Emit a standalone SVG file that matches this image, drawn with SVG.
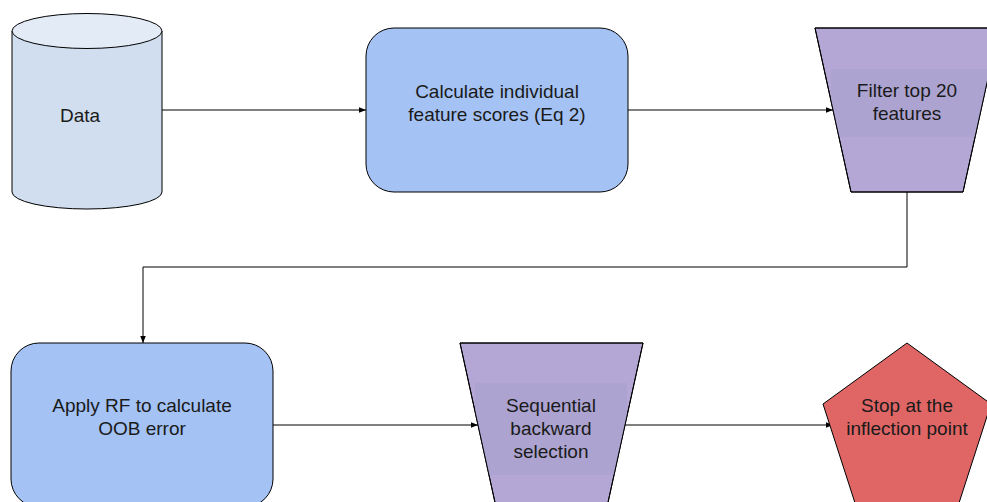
<svg xmlns="http://www.w3.org/2000/svg" width="987" height="502" viewBox="0 0 987 502">
  <style>
    .lbl { font-family: "Liberation Sans", Arial, sans-serif; font-size: 19px; fill: #1a1a1a; text-anchor: middle; }
    .edge { fill: none; stroke: #000; stroke-width: 1; }
    .shape { stroke: #000; stroke-width: 1; }
    .box { fill: #a4c2f4; }
    .trap { fill: #b4a7d6; }
    .band { fill: #aca3d0; }
  </style>
  <defs>
    <marker id="arrow" viewBox="0 0 10 10" refX="10" refY="5" markerWidth="7" markerHeight="7" markerUnits="userSpaceOnUse" orient="auto">
      <path d="M0,1 L10,5 L0,9 z" fill="#000"/>
    </marker>
    <clipPath id="clipTrapTop">
      <polygon points="815,28 999,28 963,192 851,192"/>
    </clipPath>
    <clipPath id="clipTrapBottom">
      <polygon points="460,343 643,343 607,507 496,507"/>
    </clipPath>
  </defs>

  <rect width="987" height="502" fill="#fff"/>

  <g id="connectors">
    <line class="edge" x1="162" y1="110" x2="366" y2="110" marker-end="url(#arrow)"/>
    <line class="edge" x1="628" y1="110" x2="833" y2="110" marker-end="url(#arrow)"/>
    <polyline class="edge" points="907,192 907,267 143,267 143,343" marker-end="url(#arrow)"/>
    <line class="edge" x1="273" y1="425" x2="478" y2="425" stroke-width="2" marker-end="url(#arrow)"/>
    <line class="edge" x1="625" y1="425" x2="833" y2="425" marker-end="url(#arrow)"/>
  </g>

  <g id="node-data">
    <path class="shape" d="M12,31 L12,192 A75,17 0 0 0 162,192 L162,31" fill="#d0deef"/>
    <ellipse class="shape" cx="87" cy="31" rx="75" ry="17.5" fill="#e3ebf6"/>
    <text class="lbl" x="80" y="122">Data</text>
  </g>

  <g id="node-scores">
    <rect class="shape box" x="366" y="28" width="262" height="164" rx="28" ry="28"/>
    <text class="lbl" x="497" y="98">Calculate individual</text>
    <text class="lbl" x="497" y="121">feature scores (Eq 2)</text>
  </g>

  <g id="node-filter">
    <polygon class="shape trap" points="815,28 999,28 963,192 851,192"/>
    <rect class="band" x="831" y="69" width="156" height="68" clip-path="url(#clipTrapTop)"/>
    <polygon class="shape" points="815,28 999,28 963,192 851,192" fill="none"/>
    <text class="lbl" x="907" y="97">Filter top 20</text>
    <text class="lbl" x="907" y="120">features</text>
  </g>

  <g id="node-oob">
    <rect class="shape box" x="11" y="343" width="262" height="164" rx="28" ry="28"/>
    <text class="lbl" x="142" y="412">Apply RF to calculate</text>
    <text class="lbl" x="142" y="435">OOB error</text>
  </g>

  <g id="node-sbs">
    <polygon class="shape trap" points="460,343 643,343 607,507 496,507"/>
    <rect class="band" x="475" y="383" width="152" height="92" clip-path="url(#clipTrapBottom)"/>
    <polygon class="shape" points="460,343 643,343 607,507 496,507" fill="none"/>
    <text class="lbl" x="551" y="412">Sequential</text>
    <text class="lbl" x="551" y="435">backward</text>
    <text class="lbl" x="551" y="458">selection</text>
  </g>

  <g id="node-stop">
    <polygon class="shape" points="907,343 991,404 959,503 855,503 823,404" fill="#e06666"/>
    <text class="lbl" x="907" y="412">Stop at the</text>
    <text class="lbl" x="907" y="435">inflection point</text>
  </g>
</svg>
